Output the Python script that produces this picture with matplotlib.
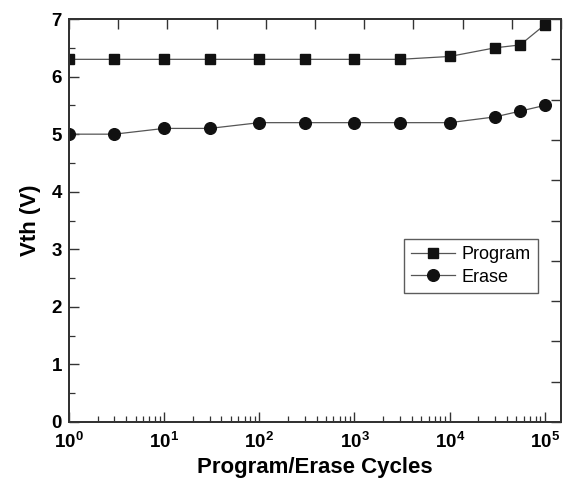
import matplotlib
matplotlib.use("Agg")
import matplotlib.pyplot as plt
from matplotlib.ticker import FuncFormatter, LogLocator, MultipleLocator, NullFormatter
import numpy as np

plt.rcParams['font.family'] = ['Liberation Sans', 'DejaVu Sans']
plt.rcParams['mathtext.fontset'] = 'custom'
plt.rcParams['mathtext.rm'] = 'Liberation Sans:bold'
plt.rcParams['mathtext.bf'] = 'Liberation Sans:bold'
plt.rcParams['mathtext.it'] = 'Liberation Sans:bold'

cycles = [1, 3, 10, 30, 100, 300, 1000, 3000, 10000, 30000, 55000, 100000]
program_vth = [6.3, 6.3, 6.3, 6.3, 6.3, 6.3, 6.3, 6.3, 6.35, 6.5, 6.55, 6.9]
erase_vth = [5.0, 5.0, 5.1, 5.1, 5.2, 5.2, 5.2, 5.2, 5.2, 5.3, 5.4, 5.5]

fig = plt.figure(figsize=(5.67, 4.82), dpi=100)
ax = fig.add_axes([0.1217, 0.1245, 0.8677, 0.836])

line_col = '#555555'
ax.plot(cycles, program_vth, color=line_col, lw=0.9, marker='s', ms=7.5,
        mfc='#111111', mec='#111111', label='Program')
ax.plot(cycles, erase_vth, color=line_col, lw=0.9, marker='o', ms=8.4,
        mfc='#111111', mec='#111111', label='Erase')

ax.set_xscale('log')
ax.set_xlim(1, 10**5.17)
ax.set_ylim(0, 7)
ax.yaxis.set_major_locator(MultipleLocator(1))
ax.yaxis.set_minor_locator(MultipleLocator(0.5))
ax.xaxis.set_major_locator(LogLocator(base=10, numticks=10))
ax.xaxis.set_minor_locator(LogLocator(base=10, subs=np.arange(2, 10), numticks=10))
ax.xaxis.set_minor_formatter(NullFormatter())
ax.xaxis.set_major_formatter(FuncFormatter(lambda v, p: r'$\mathbf{10^{%d}}$' % int(round(np.log10(v)))))

ax.tick_params(which='both', direction='in', top=False, right=False, color='#333333')
ax.tick_params(which='major', length=7, width=1.0, labelsize=13.5)
ax.tick_params(axis='y', which='major', pad=5)
ax.tick_params(axis='x', which='major', pad=7)
ax.tick_params(which='minor', length=4, width=0.9)
for lab in ax.get_yticklabels():
    lab.set_fontweight('bold')

for s in ax.spines.values():
    s.set_color('#333333')
    s.set_linewidth(1.3)

# top and right axes with evenly spaced ticks
axt = ax.twiny()
axt.set_xlim(0, 1)
axt.set_xticks(np.linspace(0, 1, 11))
axt.tick_params(axis='x', direction='in', length=7, width=1.0, labeltop=False, color='#333333')
axr = ax.twinx()
axr.set_ylim(0, 1)
axr.set_yticks(np.linspace(0, 1, 11))
axr.tick_params(axis='y', direction='in', length=7, width=1.0, labelright=False, color='#333333')
for a in (axt, axr):
    for s in a.spines.values():
        s.set_color('#333333')
        s.set_linewidth(1.3)

ax.set_xlabel('Program/Erase Cycles', fontsize=16, fontweight='bold', labelpad=4)
ax.set_ylabel('Vth (V)', fontsize=16, fontweight='bold', labelpad=8)

leg = ax.legend(loc='upper left', bbox_to_anchor=(0.681, 0.454), fontsize=13,
                frameon=True, fancybox=False, edgecolor='#333333',
                handlelength=2.4, borderpad=0.4, labelspacing=0.3, handletextpad=0.4,
                borderaxespad=0)
leg.get_frame().set_linewidth(1.0)

fig.savefig('out.png', dpi=100)
